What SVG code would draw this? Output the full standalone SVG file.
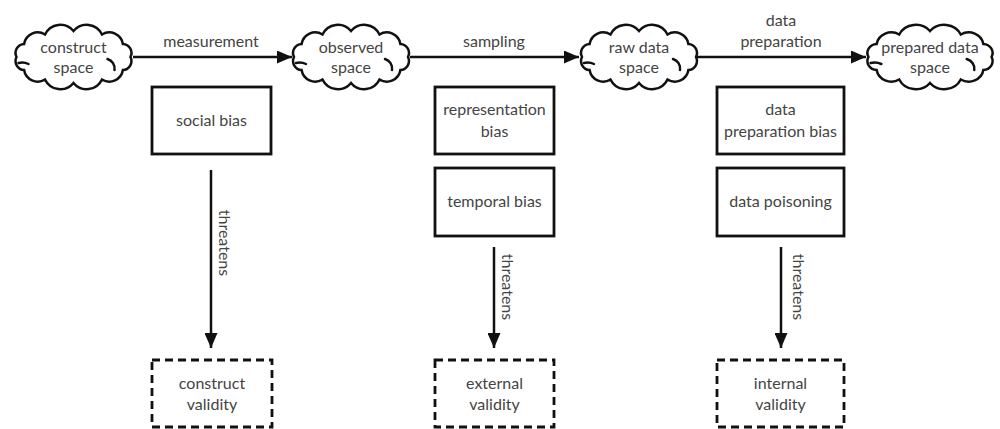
<svg xmlns="http://www.w3.org/2000/svg" width="1000" height="429" viewBox="0 0 1000 429">
<style>
  text { font-family: "Lato", "Liberation Sans", sans-serif; font-size: 16px; fill: #444; text-anchor: middle; }
  .cloud { fill: #fff; stroke: #111; stroke-width: 2.5; }
  .curl { fill: none; stroke: #111; stroke-width: 2.5; stroke-linecap: round; }
  .box { fill: #fff; stroke: #111; stroke-width: 2.8; }
  .dash { fill: #fff; stroke: #111; stroke-width: 2.8; stroke-dasharray: 8 5; }
  .conn { fill: none; stroke: #111; stroke-width: 2.5; }
</style>
<defs>
  <marker id="ah" markerUnits="userSpaceOnUse" viewBox="0 0 15 13" refX="15" refY="6.5" markerWidth="15" markerHeight="13" orient="auto">
    <path d="M0,0 L15,6.5 L0,13 Z" fill="#111"/>
  </marker>
  <g id="cloudshape">
    <path class="cloud" vector-effect="non-scaling-stroke" d="M 57,0 A 9 9 0 0 1 49.4,13 A 13.8 13.8 0 0 1 28.5,22.5 A 17 17 0 0 1 0,26 A 17 17 0 0 1 -28.5,22.5 A 13.8 13.8 0 0 1 -49.4,13 A 9 9 0 0 1 -57,0 A 9 9 0 0 1 -49.4,-13 A 13.8 13.8 0 0 1 -28.5,-22.5 A 17 17 0 0 1 0,-26 A 17 17 0 0 1 28.5,-22.5 A 13.8 13.8 0 0 1 49.4,-13 A 9 9 0 0 1 57,0 Z"/>
    <path class="curl" vector-effect="non-scaling-stroke" d="M -55,6 q 5,-1.5 10,1"/>
    <path class="curl" vector-effect="non-scaling-stroke" d="M 34,2 a 10 10 0 0 1 7,11"/>
  </g>
</defs>

<g id="connectors">
  <line class="conn" x1="133" y1="57" x2="292" y2="57" marker-end="url(#ah)"/>
  <line class="conn" x1="410" y1="57" x2="579" y2="57" marker-end="url(#ah)"/>
  <line class="conn" x1="697" y1="57" x2="866" y2="57" marker-end="url(#ah)"/>
  <line class="conn" x1="211" y1="170" x2="211" y2="348" marker-end="url(#ah)"/>
  <line class="conn" x1="494" y1="247" x2="494" y2="348" marker-end="url(#ah)"/>
  <line class="conn" x1="781" y1="247" x2="781" y2="348" marker-end="url(#ah)"/>
  <text x="211" y="47">measurement</text>
  <text x="494" y="47">sampling</text>
  <text x="781" y="26">data</text>
  <text x="781" y="47">preparation</text>
  <text transform="translate(224,243) rotate(90)" y="5">threatens</text>
  <text transform="translate(507,287) rotate(90)" y="5">threatens</text>
  <text transform="translate(798,287) rotate(90)" y="5">threatens</text>
</g>

<g id="construct-space">
  <use href="#cloudshape" transform="translate(73.5,57)"/>
  <text x="73.5" y="53">construct</text>
  <text x="73.5" y="73">space</text>
</g>
<g id="observed-space">
  <use href="#cloudshape" transform="translate(351,57)"/>
  <text x="351" y="53">observed</text>
  <text x="351" y="73">space</text>
</g>
<g id="raw-data-space">
  <use href="#cloudshape" transform="translate(639,57)"/>
  <text x="639" y="53">raw data</text>
  <text x="639" y="73">space</text>
</g>
<g id="prepared-data-space">
  <use href="#cloudshape" transform="translate(930,57) scale(1.08,1)"/>
  <text x="930" y="53">prepared data</text>
  <text x="930" y="73">space</text>
</g>

<g id="social-bias">
  <rect class="box" x="152" y="87" width="119" height="67"/>
  <text x="211.5" y="126">social bias</text>
</g>
<g id="representation-bias">
  <rect class="box" x="435" y="87" width="119" height="67"/>
  <text x="494.5" y="115">representation</text>
  <text x="494.5" y="137">bias</text>
</g>
<g id="temporal-bias">
  <rect class="box" x="435" y="168" width="119" height="68"/>
  <text x="494.5" y="207">temporal bias</text>
</g>
<g id="data-preparation-bias">
  <rect class="box" x="717" y="87" width="127" height="67"/>
  <text x="780.5" y="115">data</text>
  <text x="780.5" y="137">preparation bias</text>
</g>
<g id="data-poisoning">
  <rect class="box" x="717" y="168" width="127" height="68"/>
  <text x="780.5" y="207">data poisoning</text>
</g>
<g id="construct-validity">
  <rect class="dash" x="152" y="360" width="120" height="67"/>
  <text x="212" y="389">construct</text>
  <text x="212" y="410">validity</text>
</g>
<g id="external-validity">
  <rect class="dash" x="435" y="360" width="119" height="67"/>
  <text x="494.5" y="389">external</text>
  <text x="494.5" y="410">validity</text>
</g>
<g id="internal-validity">
  <rect class="dash" x="717" y="360" width="127" height="67"/>
  <text x="780.5" y="389">internal</text>
  <text x="780.5" y="410">validity</text>
</g>
</svg>
